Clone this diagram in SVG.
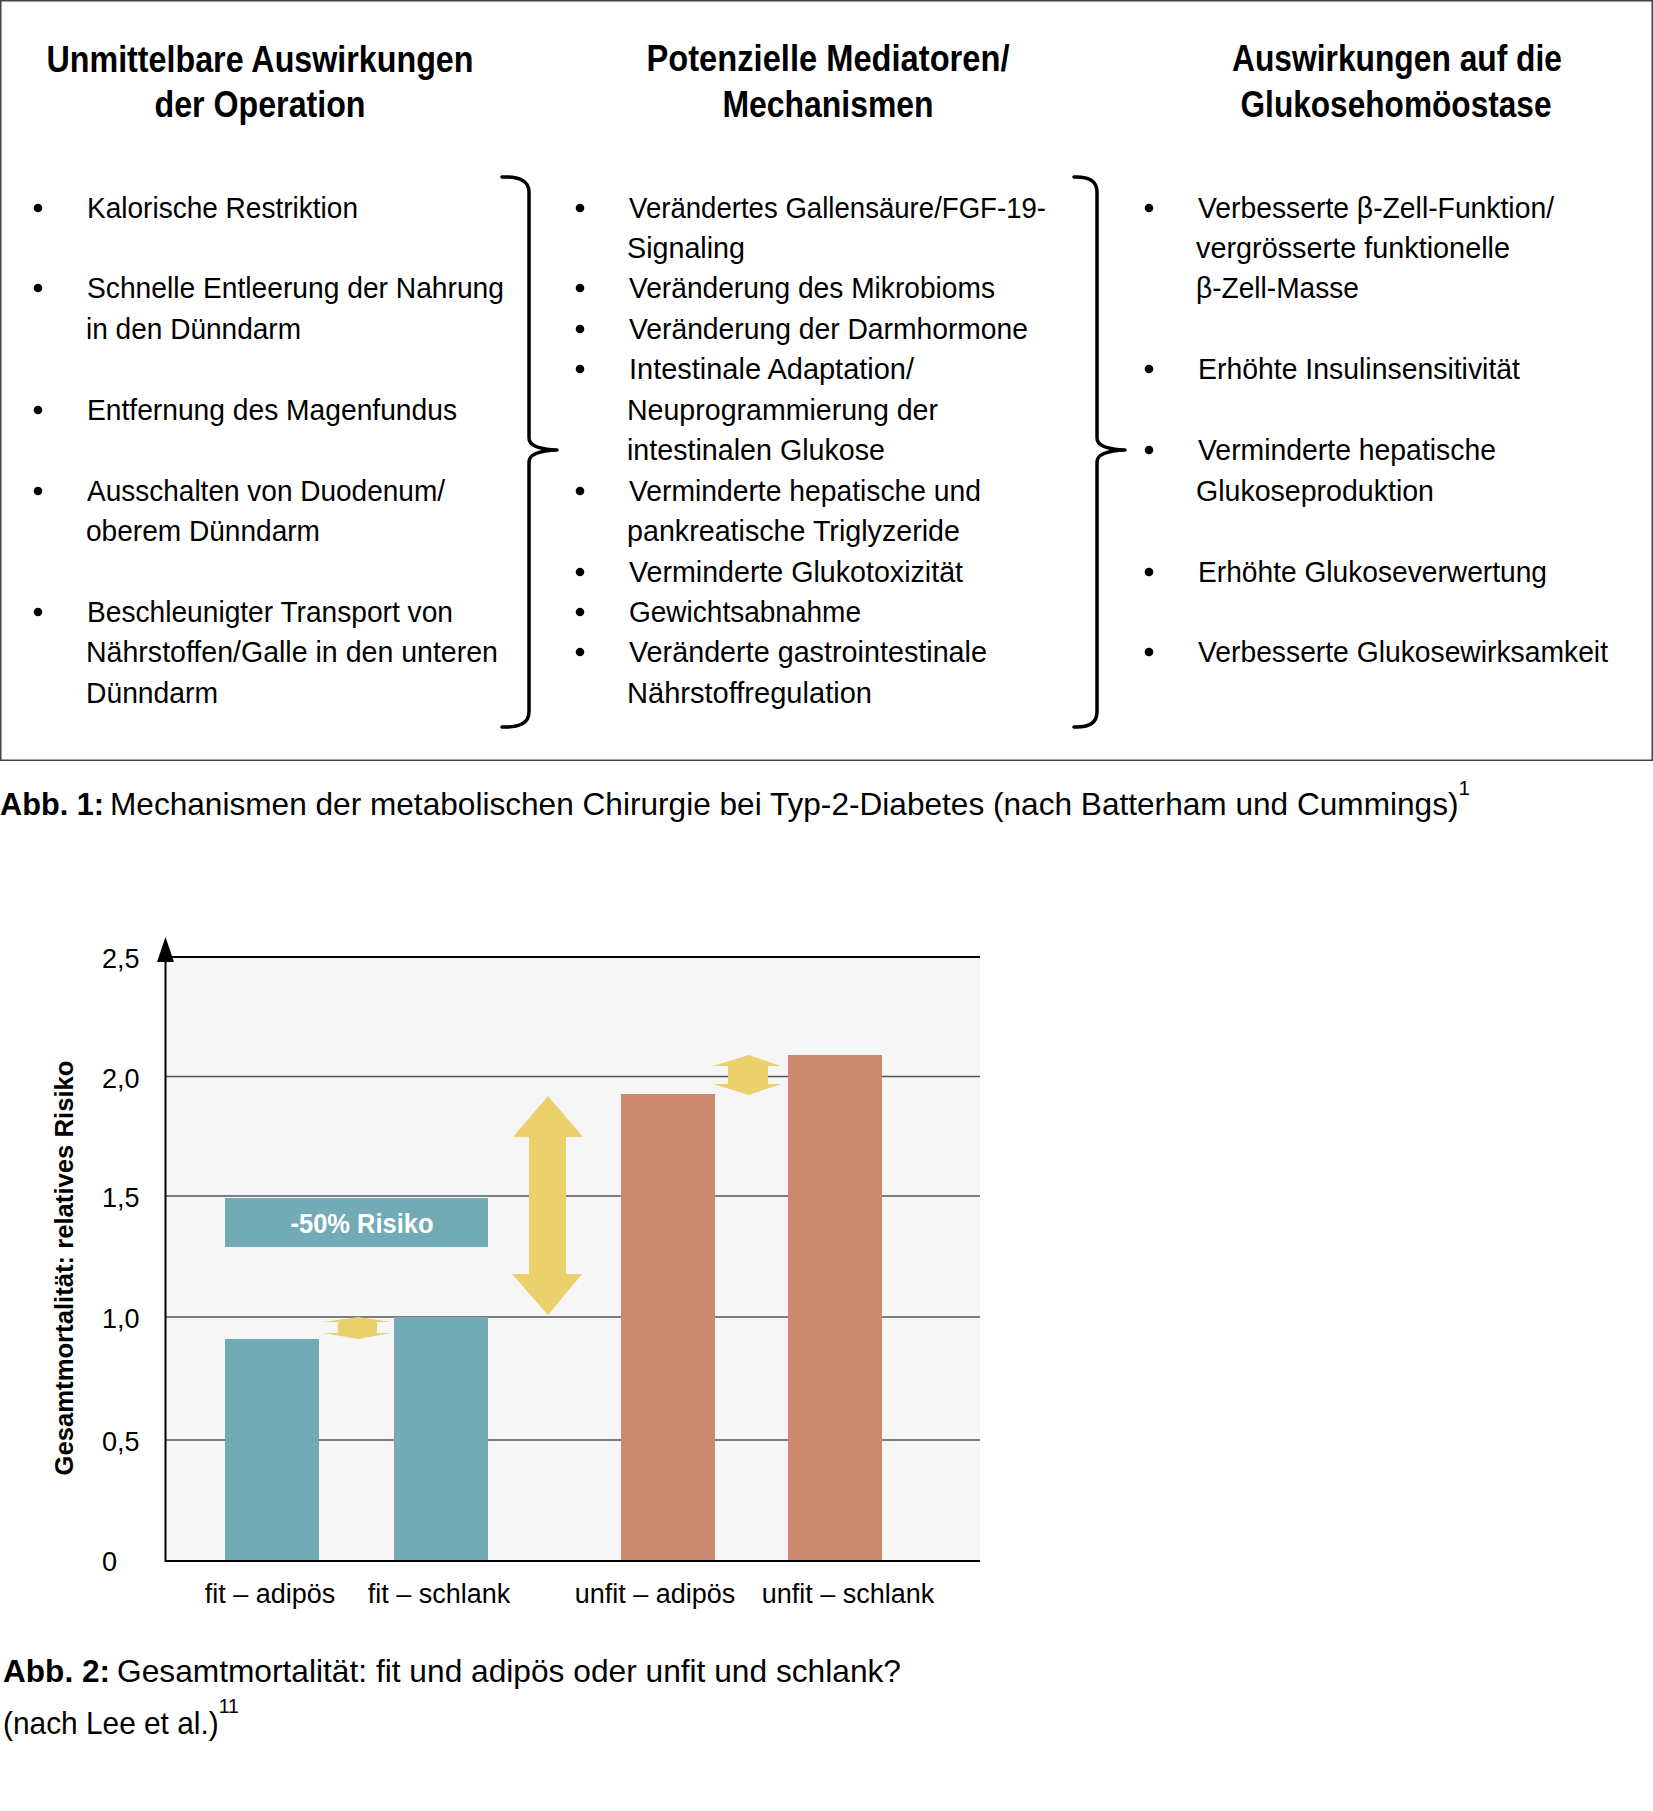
<svg xmlns="http://www.w3.org/2000/svg" width="1653" height="1811" viewBox="0 0 1653 1811">
<style>
text{font-family:"Liberation Sans",Arial,sans-serif;fill:#000}
.h{font-size:36px;font-weight:bold;text-anchor:middle}
.b{font-size:30px}
.cap{font-size:32px}
.capb{font-size:32px;font-weight:bold}
.ax{font-size:27px}
.sup{font-size:21px}
.brace{fill:none;stroke:#000;stroke-width:3.5;stroke-linecap:round;stroke-linejoin:round}
.grid{stroke:#555;stroke-width:1.6}
.teal{fill:#72abb6}
.sal{fill:#cc8970}
.yel{fill:#ebd06b}
</style>
<defs>
<g id="dot"><circle r="4.3" fill="#000"/></g>
</defs>
<rect x="0.75" y="0.75" width="1651.5" height="759.5" fill="#fff" stroke="#444" stroke-width="1.5"/>

<g id="col1">
<text class="h" x="260" y="72" textLength="427" lengthAdjust="spacingAndGlyphs">Unmittelbare Auswirkungen</text>
<text class="h" x="260" y="117" textLength="211" lengthAdjust="spacingAndGlyphs">der Operation</text>
<use href="#dot" x="38" y="208"/><text class="b" x="87" y="218" textLength="271" lengthAdjust="spacingAndGlyphs">Kalorische Restriktion</text>
<use href="#dot" x="38" y="288"/><text class="b" x="87" y="298" textLength="417" lengthAdjust="spacingAndGlyphs">Schnelle Entleerung der Nahrung</text>
<text class="b" x="86" y="339" textLength="215" lengthAdjust="spacingAndGlyphs">in den Dünndarm</text>
<use href="#dot" x="38" y="410"/><text class="b" x="87" y="420" textLength="370" lengthAdjust="spacingAndGlyphs">Entfernung des Magenfundus</text>
<use href="#dot" x="38" y="491"/><text class="b" x="87" y="501" textLength="358" lengthAdjust="spacingAndGlyphs">Ausschalten von Duodenum/</text>
<text class="b" x="86" y="541" textLength="234" lengthAdjust="spacingAndGlyphs">oberem Dünndarm</text>
<use href="#dot" x="38" y="612"/><text class="b" x="87" y="622" textLength="366" lengthAdjust="spacingAndGlyphs">Beschleunigter Transport von</text>
<text class="b" x="86" y="662" textLength="412" lengthAdjust="spacingAndGlyphs">Nährstoffen/Galle in den unteren</text>
<text class="b" x="86" y="703" textLength="132" lengthAdjust="spacingAndGlyphs">Dünndarm</text>
</g>

<g id="col2">
<text class="h" x="828" y="71" textLength="363" lengthAdjust="spacingAndGlyphs">Potenzielle Mediatoren/</text>
<text class="h" x="828" y="117" textLength="211" lengthAdjust="spacingAndGlyphs">Mechanismen</text>
<use href="#dot" x="580" y="208"/><text class="b" x="629" y="218" textLength="417" lengthAdjust="spacingAndGlyphs">Verändertes Gallensäure/FGF-19-</text>
<text class="b" x="627" y="258" textLength="118" lengthAdjust="spacingAndGlyphs">Signaling</text>
<use href="#dot" x="580" y="288"/><text class="b" x="629" y="298" textLength="366" lengthAdjust="spacingAndGlyphs">Veränderung des Mikrobioms</text>
<use href="#dot" x="580" y="329"/><text class="b" x="629" y="339" textLength="399" lengthAdjust="spacingAndGlyphs">Veränderung der Darmhormone</text>
<use href="#dot" x="580" y="369"/><text class="b" x="629" y="379" textLength="285" lengthAdjust="spacingAndGlyphs">Intestinale Adaptation/</text>
<text class="b" x="627" y="420" textLength="311" lengthAdjust="spacingAndGlyphs">Neuprogrammierung der</text>
<text class="b" x="627" y="460" textLength="258" lengthAdjust="spacingAndGlyphs">intestinalen Glukose</text>
<use href="#dot" x="580" y="491"/><text class="b" x="629" y="501" textLength="352" lengthAdjust="spacingAndGlyphs">Verminderte hepatische und</text>
<text class="b" x="627" y="541" textLength="333" lengthAdjust="spacingAndGlyphs">pankreatische Triglyzeride</text>
<use href="#dot" x="580" y="572"/><text class="b" x="629" y="582" textLength="334" lengthAdjust="spacingAndGlyphs">Verminderte Glukotoxizität</text>
<use href="#dot" x="580" y="612"/><text class="b" x="629" y="622" textLength="232" lengthAdjust="spacingAndGlyphs">Gewichtsabnahme</text>
<use href="#dot" x="580" y="652"/><text class="b" x="629" y="662" textLength="358" lengthAdjust="spacingAndGlyphs">Veränderte gastrointestinale</text>
<text class="b" x="627" y="703" textLength="245" lengthAdjust="spacingAndGlyphs">Nährstoffregulation</text>
</g>

<g id="col3">
<text class="h" x="1397" y="71" textLength="330" lengthAdjust="spacingAndGlyphs">Auswirkungen auf die</text>
<text class="h" x="1396" y="117" textLength="311" lengthAdjust="spacingAndGlyphs">Glukosehomöostase</text>
<use href="#dot" x="1149" y="208"/><text class="b" x="1198" y="218" textLength="356" lengthAdjust="spacingAndGlyphs">Verbesserte β-Zell-Funktion/</text>
<text class="b" x="1196" y="258" textLength="314" lengthAdjust="spacingAndGlyphs">vergrösserte funktionelle</text>
<text class="b" x="1196" y="298" textLength="163" lengthAdjust="spacingAndGlyphs">β-Zell-Masse</text>
<use href="#dot" x="1149" y="369"/><text class="b" x="1198" y="379" textLength="322" lengthAdjust="spacingAndGlyphs">Erhöhte Insulinsensitivität</text>
<use href="#dot" x="1149" y="450"/><text class="b" x="1198" y="460" textLength="298" lengthAdjust="spacingAndGlyphs">Verminderte hepatische</text>
<text class="b" x="1196" y="501" textLength="238" lengthAdjust="spacingAndGlyphs">Glukoseproduktion</text>
<use href="#dot" x="1149" y="572"/><text class="b" x="1198" y="582" textLength="349" lengthAdjust="spacingAndGlyphs">Erhöhte Glukoseverwertung</text>
<use href="#dot" x="1149" y="652"/><text class="b" x="1198" y="662" textLength="410" lengthAdjust="spacingAndGlyphs">Verbesserte Glukosewirksamkeit</text>
</g>

<g id="connectors">
<path class="brace" d="M502,177 Q529,176 529,192 V438 Q529,449 557,450 Q529,451 529,462 V712 Q529,728 502,727"/>
<path class="brace" d="M1074,177 Q1097,176 1097,192 V438 Q1097,449 1125,450 Q1097,451 1097,462 V712 Q1097,728 1074,727"/>
</g>

<g id="caption1">
<text class="capb" x="0" y="815" textLength="104" lengthAdjust="spacingAndGlyphs">Abb. 1:</text>
<text class="cap" x="110" y="815" textLength="1360" lengthAdjust="spacingAndGlyphs">Mechanismen der metabolischen Chirurgie bei Typ-2-Diabetes (nach Batterham und Cummings)<tspan class="sup" dy="-20">1</tspan></text>
</g>

<g id="chart">
<rect x="165" y="957" width="815" height="604" fill="#f6f6f6"/>
<line class="grid" x1="165" y1="1076.5" x2="980" y2="1076.5"/>
<line class="grid" x1="165" y1="1196" x2="980" y2="1196"/>
<line class="grid" x1="165" y1="1317" x2="980" y2="1317"/>
<line class="grid" x1="165" y1="1440" x2="980" y2="1440"/>
<line x1="165" y1="957" x2="980" y2="957" stroke="#000" stroke-width="2"/>
<rect class="teal" x="225" y="1339" width="94" height="222"/>
<rect class="teal" x="394" y="1317" width="94" height="244"/>
<rect class="sal" x="621" y="1094" width="94" height="467"/>
<rect class="sal" x="788" y="1055" width="94" height="506"/>
<line x1="165" y1="1561" x2="980" y2="1561" stroke="#000" stroke-width="2"/>
<line x1="165.5" y1="960" x2="165.5" y2="1562" stroke="#000" stroke-width="2"/>
<polygon points="165.5,937 174,962 157,962" fill="#000"/>
<rect class="teal" x="225" y="1198" width="263" height="49"/>
<text x="362" y="1233" style="font-size:27px;font-weight:bold;fill:#fff;text-anchor:middle" textLength="143" lengthAdjust="spacingAndGlyphs">-50% Risiko</text>
<polygon class="yel" points="548,1096 583,1137 566,1137 566,1274 582,1274 548,1315 512,1274 529,1274 529,1137 513,1137"/>
<polygon class="yel" points="358,1317 391,1322 377,1322 377,1333 391,1333 358,1339 323,1333 338,1333 338,1322 323,1322"/>
<polygon class="yel" points="749,1055 781,1066 768,1066 768,1084 781,1084 749,1095 713,1084 728,1084 728,1066 713,1066"/>
<text class="ax" x="102" y="968">2,5</text>
<text class="ax" x="102" y="1088">2,0</text>
<text class="ax" x="102" y="1207">1,5</text>
<text class="ax" x="102" y="1328">1,0</text>
<text class="ax" x="102" y="1451">0,5</text>
<text class="ax" x="102" y="1571">0</text>
<text transform="translate(73,1268) rotate(-90)" style="font-size:26px;font-weight:bold;text-anchor:middle" textLength="415" lengthAdjust="spacingAndGlyphs">Gesamtmortalität: relatives Risiko</text>
<text class="ax" x="270" y="1603" text-anchor="middle">fit – adipös</text>
<text class="ax" x="439" y="1603" text-anchor="middle">fit – schlank</text>
<text class="ax" x="655" y="1603" text-anchor="middle">unfit – adipös</text>
<text class="ax" x="848" y="1603" text-anchor="middle">unfit – schlank</text>
</g>

<g id="caption2">
<text class="capb" x="3" y="1682" textLength="107" lengthAdjust="spacingAndGlyphs">Abb. 2:</text>
<text class="cap" x="117" y="1682" textLength="784" lengthAdjust="spacingAndGlyphs">Gesamtmortalität: fit und adipös oder unfit und schlank?</text>
<text class="cap" x="3" y="1734" textLength="236" lengthAdjust="spacingAndGlyphs">(nach Lee et al.)<tspan class="sup" dy="-21">11</tspan></text>
</g>
</svg>
